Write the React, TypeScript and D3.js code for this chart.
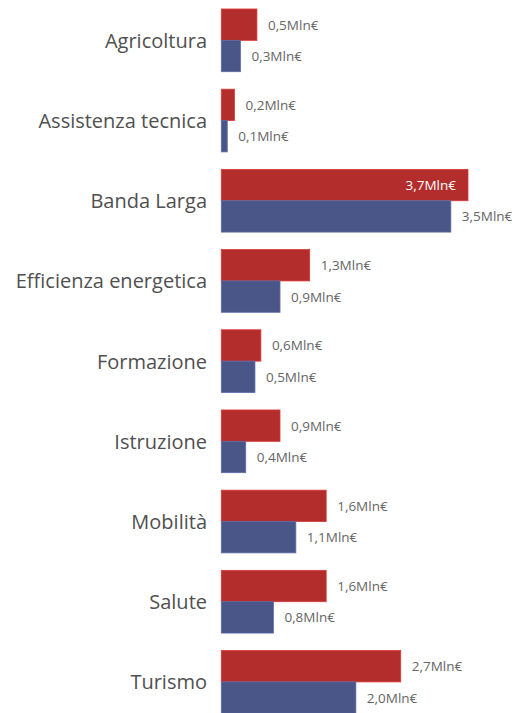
import React, { useRef, useEffect } from 'react';
import * as d3 from 'd3';

const categories = [
  'Agricoltura',
  'Assistenza tecnica',
  'Banda Larga',
  'Efficienza energetica',
  'Formazione',
  'Istruzione',
  'Mobilità',
  'Salute',
  'Turismo',
];
const seriesKeys = ['red', 'blue'];
const redValues = [0.54, 0.2, 3.74, 1.34, 0.6, 0.89, 1.59, 1.59, 2.72];
const blueValues = [0.29, 0.09, 3.48, 0.89, 0.51, 0.37, 1.13, 0.79, 2.04];
const colors = { red: '#B22D2B', blue: '#4A5688' };

const fmt = (v: number) => d3.format('.1f')(v).replace('.', ',') + 'Mln€';

const App = () => {
  const svgRef = useRef<SVGSVGElement>(null);

  useEffect(() => {
    const w = 530;
    const h = 713;
    const svg = d3.select(svgRef.current).attr('width', w).attr('height', h);
    svg.selectAll('*').remove();

    const rows = categories.map((c, i) => ({ cat: c, red: redValues[i], blue: blueValues[i] }));

    // scales
    const y = d3
      .scaleBand()
      .domain(categories)
      .range([0.25, 722])
      .paddingInner(0.218)
      .paddingOuter(0.109);
    const ySub = d3.scaleBand().domain(seriesKeys).range([0, y.bandwidth()]);
    const maxVal = d3.max(redValues.concat(blueValues)) as number;
    const x = d3.scaleLinear().domain([0, maxVal]).range([221.3, 468]);

    // category labels
    svg
      .append('g')
      .selectAll('text')
      .data(rows)
      .join('text')
      .attr('x', 207)
      .attr('y', (d) => (y(d.cat) as number) + y.bandwidth() / 2)
      .attr('text-anchor', 'end')
      .attr('dominant-baseline', 'central')
      .attr('font-family', "'Open Sans', sans-serif")
      .attr('font-size', 20)
      .attr('fill', '#505050')
      .text((d) => d.cat);

    const groups = svg
      .append('g')
      .selectAll('g')
      .data(rows)
      .join('g')
      .attr('transform', (d) => `translate(0,${y(d.cat)})`);

    const items = groups
      .selectAll('g')
      .data((d) => seriesKeys.map((k) => ({ key: k, value: (d as any)[k] as number })))
      .join('g');

    items
      .append('rect')
      .attr('x', x(0))
      .attr('y', (d) => ySub(d.key) as number)
      .attr('width', (d) => x(d.value) - x(0))
      .attr('height', ySub.bandwidth())
      .attr('fill', (d) => (colors as any)[d.key])
      .attr('stroke', (d) => d3.color((colors as any)[d.key])!.brighter(0.6).formatHex())
      .attr('stroke-width', 0.8);

    // value labels; inside the bar only when there is no room on the right
    items
      .append('text')
      .each(function (d) {
        const inside = x(d.value) + 70 > w;
        d3.select(this)
          .attr('x', inside ? x(d.value) - 12 : x(d.value) + 11)
          .attr('text-anchor', inside ? 'end' : 'start')
          .attr('fill', inside ? '#fff' : '#666');
      })
      .attr('y', (d) => (ySub(d.key) as number) + ySub.bandwidth() / 2)
      .attr('dominant-baseline', 'central')
      .attr('font-family', "'Open Sans', sans-serif")
      .attr('font-size', 13.5)
      .text((d) => fmt(d.value));
  }, []);

  return (
    <div style={{ position: 'absolute', left: 0, top: 0 }}>
      <svg ref={svgRef} style={{ display: 'block' }}></svg>
    </div>
  );
};

export default App;
